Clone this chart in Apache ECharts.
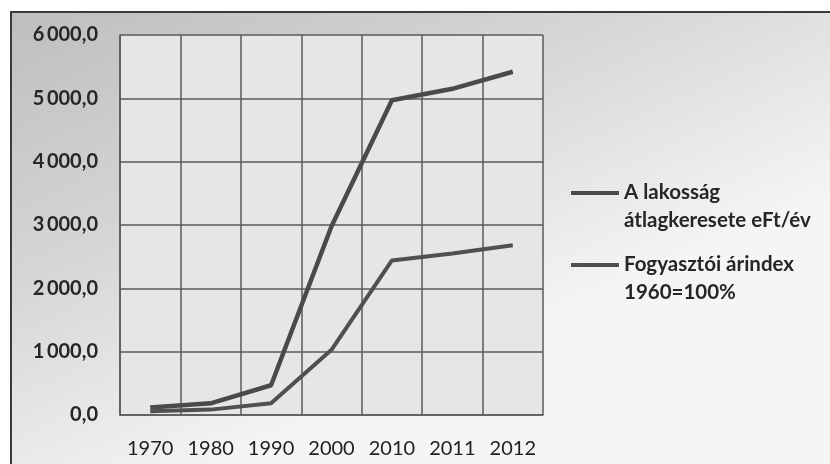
<!DOCTYPE html>
<html><head><meta charset="utf-8">
<script src="https://cdn.jsdelivr.net/npm/echarts@6/dist/echarts.min.js"></script>
<style>html,body{margin:0;padding:0;background:#fff}#c{width:830px;height:464px}</style>
</head><body><div id="c"></div>
<script>
const categories = ['1970','1980','1990','2000','2010','2011','2012'];
const wageName = 'A lakosság\nátlagkeresete eFt/év';
const wageValues = [120, 185, 470, 2980, 4970, 5150, 5420];
const cpiName = 'Fogyasztói árindex\n1960=100%';
const cpiValues = [60, 85, 185, 1030, 2440, 2550, 2680];
const yTicks = [0, 1000, 2000, 3000, 4000, 5000, 6000];

function fmt(v){
  const s = Math.round(v).toString().replace(/\B(?=(\d{3})+(?!\d))/g, '\u2009');
  return s + ',0';
}
const chart = echarts.init(document.getElementById('c'));
const font = 'Lato, "Open Sans", sans-serif';
const lineColor = '#5a5a5a';
const iconPath = 'path://M0,0H48V4H0Z M0,30H0.01V30.01H0Z';
chart.setOption({
  animation: false,
  backgroundColor: '#ffffff',
  graphic: [
    { type: 'rect', z: -10, shape: { x: 11, y: 12, width: 830, height: 460 },
      style: { fill: new echarts.graphic.LinearGradient(0, 0, 0.25, 1, [
        { offset: 0, color: '#bebebe' }, { offset: 0.5, color: '#d6d6d6' }, { offset: 1, color: '#f5f5f5' }]),
        stroke: '#3a3a3a', lineWidth: 2 } },
    { type: 'rect', z: -9, shape: { x: 120, y: 35, width: 423, height: 380 },
      style: { fill: '#e6e6e6' } }
  ],
  grid: { left: 120, right: 287, top: 35, bottom: 49, containLabel: false },
  legend: {
    orient: 'vertical', left: 566, top: 173, itemGap: 16,
    itemWidth: 48, itemHeight: 30,
    textStyle: { fontFamily: font, fontSize: 20.5, fontWeight: 'bold', color: '#262626', lineHeight: 28 },
    data: [
      { name: wageName, icon: iconPath },
      { name: cpiName, icon: iconPath }
    ]
  },
  xAxis: {
    type: 'category', data: categories, boundaryGap: true,
    axisLine: { show: true, lineStyle: { color: lineColor, width: 1.5 } },
    axisTick: { show: false },
    splitLine: { show: true, lineStyle: { color: lineColor, width: 1.5 } },
    axisLabel: { margin: 24, fontFamily: font, fontSize: 20, fontWeight: 'normal', color: '#1e1e1e' }
  },
  yAxis: {
    type: 'value', min: 0, max: 6000, interval: 1000,
    axisLine: { show: true, lineStyle: { color: lineColor, width: 1.5 } },
    axisTick: { show: false },
    splitLine: { show: true, lineStyle: { color: lineColor, width: 1.5 } },
    axisLabel: { margin: 22, fontFamily: font, fontSize: 20, fontWeight: 'bold', color: '#262626',
      formatter: v => yTicks.includes(v) ? fmt(v) : '' }
  },
  series: [
    { name: wageName, type: 'line', data: wageValues, symbol: 'none',
      lineStyle: { color: '#4a4a4a', width: 4.5 }, itemStyle: { color: '#4a4a4a' } },
    { name: cpiName, type: 'line', data: cpiValues, symbol: 'none',
      lineStyle: { color: '#505050', width: 4 }, itemStyle: { color: '#505050' } }
  ]
});
</script></body></html>
